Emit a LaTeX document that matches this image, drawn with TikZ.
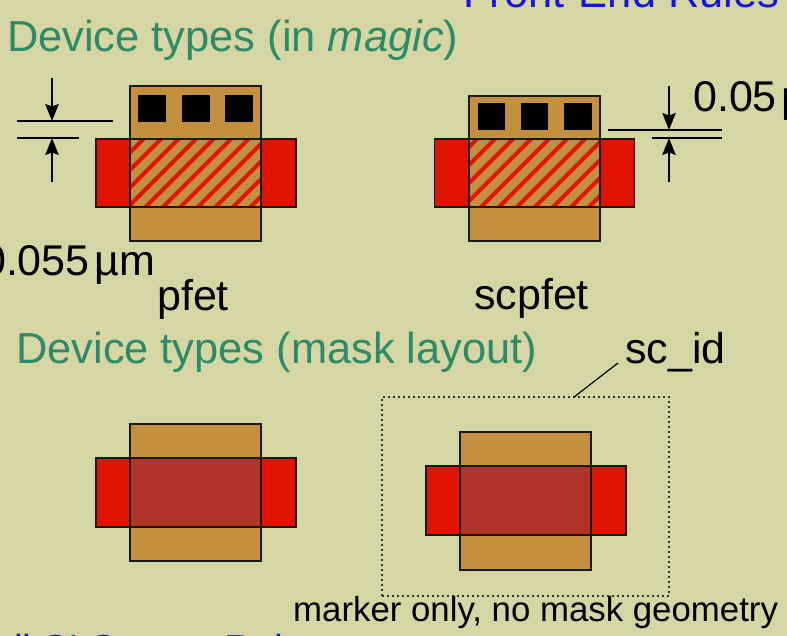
\documentclass[tikz,border=0pt]{standalone}
\usepackage{fontspec}
\setmainfont{Liberation Sans}
\usepackage{xcolor}
\usepackage{tikz}
\usetikzlibrary{arrows.meta, positioning, calc}
\definecolor{slidebg}{RGB}{214,214,165}
\definecolor{polybrown}{RGB}{196,144,63}
\definecolor{diffred}{RGB}{224,20,0}
\definecolor{gatered}{RGB}{174,53,39}
\definecolor{titlegreen}{RGB}{47,139,103}
\definecolor{titleblue}{RGB}{20,20,224}

\begin{document}
\begin{tikzpicture}[
    x=1pt, y=-1pt,
    >={Stealth[length=17pt, width=13.5pt, inset=2.5pt]},
    layer/.style={draw=black!90, line width=1.4pt, inner sep=0pt, outer sep=0pt},
    polybox/.style={layer, fill=polybrown, minimum width=131pt, minimum height=#1},
    diffbox/.style={layer, fill=diffred, minimum width=200pt, minimum height=68pt},
    gatebox/.style={layer, minimum width=131pt, minimum height=68pt},
    contact/.style={fill=black, inner sep=0pt, minimum width=27.5pt, minimum height=27pt},
    heading/.style={inner sep=0pt, anchor=base west, font=\fontsize{43.4}{50}\selectfont},
    label/.style={inner sep=0pt, font=\fontsize{43}{50}\selectfont},
    dimline/.style={line width=1.2pt},
    hatchline/.style={diffred, line width=4.2pt},
]
    \clip (0,0) rectangle (787,636);
    \fill[slidebg] (0,0) rectangle (787,636);

    % Headings
    \node[heading, text=titleblue] (frontend) at (463,8) {Front-End Rules};
    \node[heading, text=titlegreen] (magichead) at (7,52) {Device types (in \textit{magic})};
    \node[heading, text=titlegreen] (maskhead) at (16,363) {Device types (mask layout)};
    \node[heading, text=titleblue, font=\fontsize{39}{45}\selectfont] (nexthead) at (14,662) {ll SI Source Rules};

    % pfet in magic
    \node[polybox=155pt] (pfetpoly) at (195.5,163.5) {};
    \node[diffbox] (pfetdiff) at (196,173) {};
    \node[gatebox, fill=polybrown] (pfetgate) at (195.5,173) {};
    \begin{scope}
        \clip (pfetgate.north west) rectangle (pfetgate.south east);
        \foreach \c in {265,282.5,...,475}
            \draw[hatchline] (\c-139+4,139-4) -- (\c-207-4,207+4);
    \end{scope}
    \node[gatebox] (pfetgateline) at (195.5,173) {};
    \foreach \x [count=\i] in {152,196,239}
        \node[contact] (pfetcut\i) at (\x,108.5) {};

    % scpfet in magic
    \node[polybox=145pt] (scpolya) at (534.5,168.5) {};
    \node[diffbox] (scdiffa) at (534.5,173) {};
    \node[gatebox, fill=polybrown] (scgate) at (534.5,173) {};
    \begin{scope}
        \clip (scgate.north west) rectangle (scgate.south east);
        \foreach \c in {598,616,...,810}
            \draw[hatchline] (\c-139+4,139-4) -- (\c-207-4,207+4);
    \end{scope}
    \node[gatebox] (scgateline) at (534.5,173) {};
    \foreach \x [count=\i] in {491.5,534.5,578}
        \node[contact] (sccut\i) at (\x,116.5) {};

    % dimension on pfet
    \coordinate (dimaL) at (17,121);
    \coordinate (dimaR) at (113,121);
    \coordinate (dimbL) at (17,138);
    \coordinate (dimbR) at (79,138);
    \coordinate (arrowaT) at (52,78);
    \coordinate (arrowaM) at (52,121);
    \coordinate (arrowbB) at (52,182);
    \coordinate (arrowbM) at (52,138);
    \draw[dimline] (dimaL) -- (dimaR);
    \draw[dimline] (dimbL) -- (dimbR);
    \draw[dimline, ->] (arrowaT) -- (arrowaM);
    \draw[dimline, ->] (arrowbB) -- (arrowbM);
    \node[label, anchor=base east] (dimtexta) at (155.5,276) {0.055\kern5pt µm};

    % dimension on scpfet
    \coordinate (dimcL) at (608,130);
    \coordinate (dimcR) at (722,130);
    \coordinate (dimdL) at (652,138);
    \coordinate (dimdR) at (722,138);
    \coordinate (arrowcT) at (669,86);
    \coordinate (arrowcM) at (669,130);
    \coordinate (arrowdB) at (669,182);
    \coordinate (arrowdM) at (669,138);
    \draw[dimline] (dimcL) -- (dimcR);
    \draw[dimline] (dimdL) -- (dimdR);
    \draw[dimline, ->] (arrowcT) -- (arrowcM);
    \draw[dimline, ->] (arrowdB) -- (arrowdM);
    \node[label, anchor=base west] (dimtextb) at (693,112) {0.05\kern5pt µm};

    % device names
    \node[label, anchor=base] (pfetname) at (193,310) {pfet};
    \node[label, anchor=base] (scpfetname) at (531.5,309) {scpfet};

    % mask layout
    \node[polybox=137pt] (maskpoly) at (195.5,492.5) {};
    \node[diffbox, minimum height=69pt] (maskdiff) at (196,492.5) {};
    \node[gatebox, fill=gatered, minimum height=69pt] (maskgate) at (195.5,492.5) {};

    \node[polybox=138pt] (scmaskpoly) at (525.5,501) {};
    \node[diffbox, minimum height=69pt] (scmaskdiff) at (526,500.5) {};
    \node[gatebox, fill=gatered, minimum height=69pt] (scmaskgate) at (525.5,500.5) {};

    % sc_id marker
    \node[draw=black!80, line width=1.5pt, dash pattern=on 1.6pt off 3.4pt, inner sep=0pt,
          minimum width=287pt, minimum height=199pt] (marker) at (525.5,496.5) {};
    \coordinate (leaderfoot) at (574,397);
    \node[label, anchor=base west] (scid) at (625,363) {sc\_id};
    \coordinate (leaderhead) at (618,363);
    \draw[line width=1.2pt] (leaderfoot) -- (leaderhead);
    \node[inner sep=0pt, anchor=base west, font=\fontsize{34.8}{40}\selectfont] (markernote) at (293,621) {marker only, no mask geometry};
\end{tikzpicture}
\end{document}
